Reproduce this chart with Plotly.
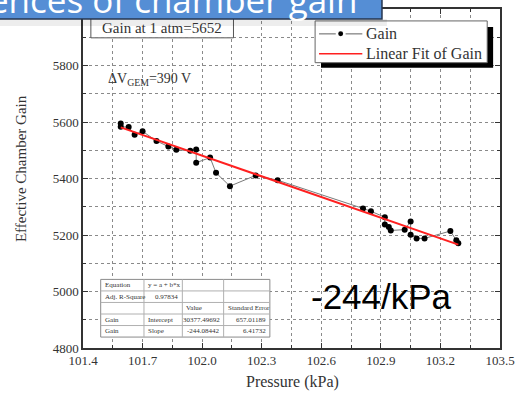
import plotly.graph_objects as go

# Measured gain vs. pressure (in acquisition order)
pressure_kpa = [101.59, 101.59, 101.63, 101.66, 101.70, 101.77, 101.83, 101.87,
                101.94, 101.97, 101.97, 102.04, 102.07, 102.14, 102.27, 102.38,
                102.81, 102.85, 102.92, 102.92, 102.94, 102.95, 103.02, 103.05,
                103.05, 103.08, 103.12, 103.25, 103.28, 103.29]
gain = [5595, 5583, 5582, 5555, 5567, 5533, 5513, 5502,
        5498, 5503, 5456, 5474, 5420, 5373, 5411, 5394,
        5294, 5284, 5263, 5237, 5228, 5216, 5219, 5248,
        5201, 5188, 5188, 5214, 5181, 5171]

# Linear fit results
fit_intercept = 30377.49692
fit_slope = -244.08442
fit_table = [
    ["Equation", "y = a + b*x", "", ""],
    ["Adj. R-Square", "0.97834", "", ""],
    ["", "", "Value", "Standard Error"],
    ["Gain", "Intercept", "30377.49692", "657.01189"],
    ["Gain", "Slope", "-244.08442", "6.41732"],
]
x_ticks = [101.4, 101.7, 102.0, 102.3, 102.6, 102.9, 103.2, 103.5]
y_ticks = [4800, 5000, 5200, 5400, 5600, 5800]
legend_names = ["Gain", "Linear Fit of Gain"]

W, H = 522, 395
L, R, T, B = 83, 15, 7, 47
PW, PH = W - L - R, H - T - B


def px(x):
    return (x - L) / PW


def py(y):
    return (H - B - y) / PH


SERIF = "Liberation Serif, Times New Roman, serif"
TXT = "#333333"
DATA_LINE = "#7a7a7a"
FIT_RED = "#ff2020"

fit_x = [min(pressure_kpa), max(pressure_kpa)]
fit_y = [fit_intercept + fit_slope * v for v in fit_x]

fig = go.Figure()
fig.add_trace(go.Scatter(
    x=pressure_kpa, y=gain, mode="lines+markers", name=legend_names[0],
    line=dict(color=DATA_LINE, width=1),
    marker=dict(color="black", size=6),
    showlegend=False,
))
fig.add_trace(go.Scatter(
    x=fit_x, y=fit_y, mode="lines", name=legend_names[1],
    line=dict(color=FIT_RED, width=2),
    showlegend=False,
))

axis_common = dict(
    showline=True, linecolor="#333333", linewidth=1.5, mirror="allticks",
    ticks="inside", ticklen=5, tickcolor="#333333", tickwidth=1,
    showgrid=True, gridcolor="#8a8a8a", gridwidth=1, griddash="dot",
    zeroline=False,
    tickfont=dict(family=SERIF, size=13, color=TXT),
)
fig.update_xaxes(
    range=[101.4, 103.5], tickvals=x_ticks, tickformat=".1f",
    minor=dict(dtick=0.15, tick0=101.4, ticks="inside", ticklen=3,
               tickcolor="#333333", showgrid=True, gridcolor="#8a8a8a",
               griddash="dot"),
    **axis_common,
)
fig.update_yaxes(
    range=[4800, 6000], tickvals=y_ticks,
    minor=dict(dtick=100, tick0=4800, ticks="inside", ticklen=3,
               tickcolor="#333333", showgrid=True, gridcolor="#8a8a8a",
               griddash="dot"),
    **axis_common,
)

shapes = []
annotations = []


def label(text, x, y, size, xanchor="center", family=SERIF, color=TXT, **kw):
    annotations.append(dict(text=text, xref="paper", yref="paper",
                            x=px(x), y=py(y), xanchor=xanchor,
                            yanchor="middle", showarrow=False,
                            font=dict(family=family, size=size, color=color),
                            **kw))


def rect(x0, y0, x1, y1, fill, line_color=None, lw=1):
    shapes.append(dict(type="rect", xref="paper", yref="paper",
                       x0=px(x0), x1=px(x1), y0=py(y1), y1=py(y0),
                       line=dict(color=line_color or "rgba(0,0,0,0)",
                                 width=lw if line_color else 0),
                       fillcolor=fill, layer="above"))


def seg(x0, y0, x1, y1, color, lw):
    shapes.append(dict(type="line", xref="paper", yref="paper",
                       x0=px(x0), x1=px(x1), y0=py(y0), y1=py(y1),
                       line=dict(color=color, width=lw), layer="above"))


# "Gain at 1 atm" box
rect(91, 8, 236, 36, "white", "#555555")
label("Gain at 1 atm=5652", 163, 26, 15)

label("ΔV<sub>GEM</sub>=390 V", 106, 78, 14, xanchor="left")

# Legend with drop shadow
rect(325, 25, 500, 66, "black")
rect(319, 19, 494, 61, "white", "#666666")
seg(323, 32, 340, 32, DATA_LINE, 1.2)
seg(350, 32, 367, 32, DATA_LINE, 1.2)
shapes.append(dict(type="circle", xref="paper", yref="paper",
                   x0=px(342.5), x1=px(347.5), y0=py(34.5), y1=py(29.5),
                   fillcolor="black", line=dict(width=0), layer="above"))
seg(323, 52, 367, 52, FIT_RED, 1.5)
label(legend_names[0], 369, 32, 16, xanchor="left")
label(legend_names[1], 369, 52, 16, xanchor="left")

# Fit statistics table
col_edges = [101, 145, 184, 226, 273]
row_top, row_h = 279, 11.6
n_rows = len(fit_table)
row_bot = row_top + n_rows * row_h
rect(col_edges[0], row_top, col_edges[-1], row_bot, "white", "#8a8a8a")
for c in col_edges[1:-1]:
    seg(c, row_top, c, row_bot, "#b0b0b0", 1)
for r in range(1, n_rows):
    yy = row_top + r * row_h
    seg(col_edges[0], yy, col_edges[-1], yy, "#b0b0b0", 1)
right_cells = {(1, 1), (3, 2), (3, 3), (4, 2), (4, 3)}
for r, row in enumerate(fit_table):
    for c, txt in enumerate(row):
        if not txt:
            continue
        yc = row_top + (r + 0.5) * row_h
        if (r, c) in right_cells:
            label(txt, col_edges[c + 1] - 2, yc, 7, xanchor="right")
        else:
            label(txt, col_edges[c] + 2, yc, 7, xanchor="left")

label("-244/kPa", 387, 296, 35,
      family="Liberation Sans, Arial, sans-serif", color="black")

# Axis titles
label("Effective Chamber Gain", 20, 168, 15, textangle=-90)
label("Pressure (kPa)", 296, 382, 16)

# Title banner
rect(-10, 17, 392, 24, "rgba(0,0,0,0.07)")
rect(-10, -10, 387, 17, "#558ed5", "#26364f", 1.5)
label("Pressure dependences of chamber gain", 364, -3, 35, xanchor="right",
      family="Open Sans, sans-serif", color="white")

fig.update_layout(
    width=W, height=H,
    margin=dict(l=L, r=R, t=T, b=B),
    paper_bgcolor="white", plot_bgcolor="white",
    shapes=shapes, annotations=annotations,
    showlegend=False,
)

fig.write_html("out.html")
